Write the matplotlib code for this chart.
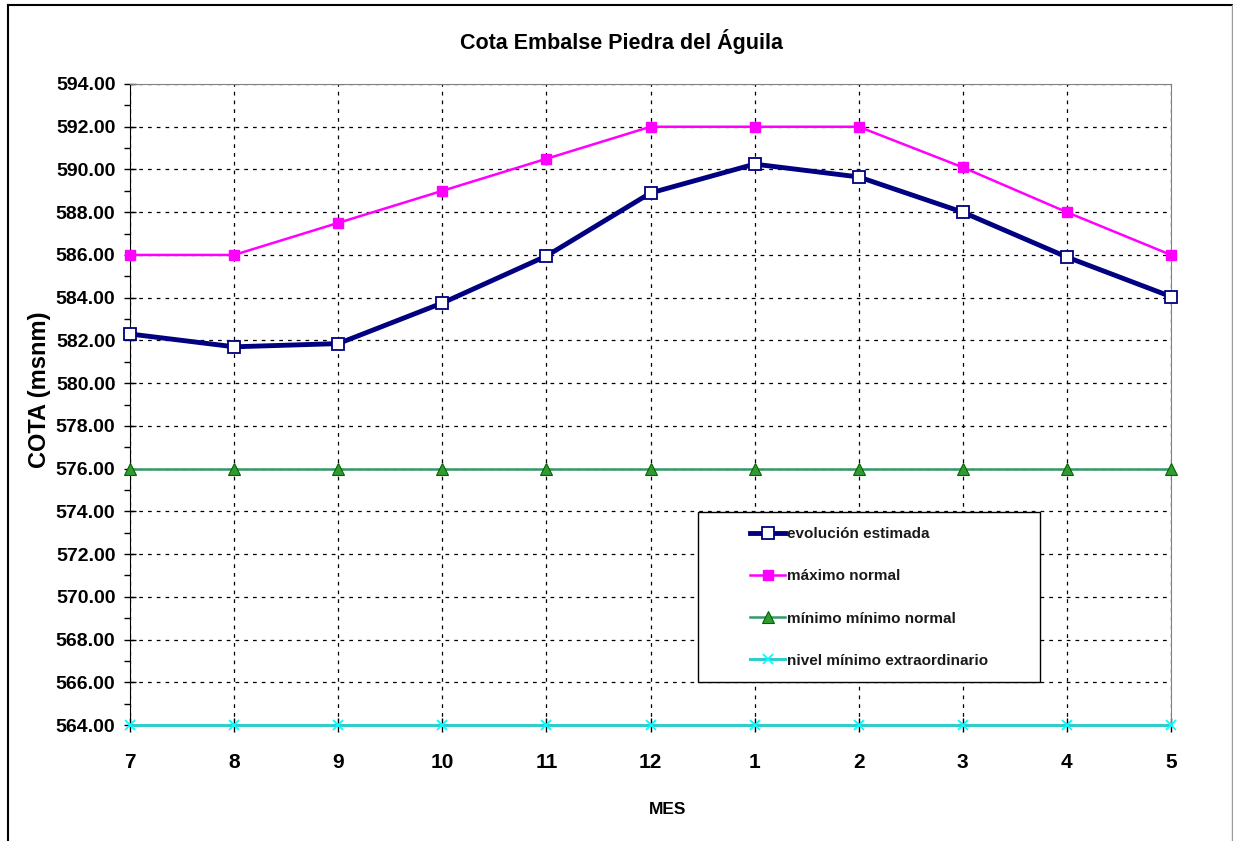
import matplotlib
matplotlib.use('Agg')
import matplotlib.pyplot as plt
from matplotlib.lines import Line2D
from matplotlib.patches import Rectangle
from matplotlib.ticker import MultipleLocator

plt.rcParams['font.family'] = ['Liberation Sans', 'DejaVu Sans']

# months on the category axis
meses = ['7', '8', '9', '10', '11', '12', '1', '2', '3', '4', '5']

# reservoir levels (msnm)
evolucion = [582.3, 581.7, 581.85, 583.75, 585.95, 588.9, 590.25, 589.65, 588.0, 585.9, 584.05]
maximo = [586.0, 586.0, 587.5, 589.0, 590.5, 592.0, 592.0, 592.0, 590.1, 588.0, 586.0]
minimo_normal = [576.0] * 11
minimo_extra = [564.0] * 11

x = list(range(len(meses)))

W, H = 1233, 841
fig = plt.figure(figsize=(W / 100, H / 100), dpi=100)
ax = fig.add_axes([130 / W, 1 - 725 / H, (1171 - 130) / W, (725 - 84) / H])

ax.plot(x, evolucion, color='#000080', lw=3.5, marker='s', ms=8.5,
        mfc='white', mec='#000080', mew=1.3, label='evolución estimada',
        zorder=5, clip_on=False)
ax.plot(x, maximo, color='#FF00FF', lw=1.8, marker='s', ms=7,
        mfc='#FF00FF', mec='#FF00FF', label='máximo normal', zorder=4, clip_on=False)
ax.plot(x, minimo_normal, color='#339966', lw=1.8, marker='^', ms=8.5,
        mfc='#339933', mec='#006600', mew=0.8, label='mínimo mínimo normal',
        zorder=4, clip_on=False)
ax.plot(x, minimo_extra, color='#33CCCC', lw=2.2, marker='x', ms=7,
        mec='#00FFFF', mew=1.3, label='nivel mínimo extraordinario', zorder=4,
        clip_on=False)

ax.set_xlim(0, 10)
ax.set_ylim(564, 594)
ax.set_xticks(x)
ax.set_xticklabels(meses, fontsize=15, fontweight='bold')
ax.yaxis.set_major_locator(MultipleLocator(2))
ax.yaxis.set_minor_locator(MultipleLocator(1))
ax.set_yticks(ax.get_yticks())
ax.set_yticklabels(['%.2f' % v for v in ax.get_yticks()], fontsize=14, fontweight='bold')
ax.set_ylim(564, 594)

ax.tick_params(axis='y', which='major', direction='inout', length=9, width=1, pad=6)
ax.tick_params(axis='y', which='minor', direction='out', length=4, width=1)
ax.tick_params(axis='x', which='major', direction='inout', length=10, width=1, pad=15)

ax.grid(True, which='major', color='black', linestyle=(0, (3, 4)), lw=0.9)
for side in ['top', 'right']:
    ax.spines[side].set_color('#808080')
ax.spines['bottom'].set_visible(False)
ax.spines['left'].set_color('black')

# titles placed on the figure (centred on the chart area like Excel)
fig.text(621 / W, 1 - 42 / H, 'Cota Embalse Piedra del Águila', fontsize=15.5,
         fontweight='bold', ha='center', va='center')
fig.text(40 / W, 1 - 390 / H, 'COTA (msnm)', fontsize=17, fontweight='bold',
         rotation=90, ha='center', va='center')
fig.text(668 / W, 1 - 810 / H, 'MES', fontsize=12.5, fontweight='bold',
         ha='center', va='center')

# legend box
ax.add_patch(Rectangle(((698 - 130) / 1041, (725 - 682) / 641),
                       (1040 - 698) / 1041, (682 - 512) / 641,
                       transform=ax.transAxes, facecolor='white', edgecolor='black',
                       lw=1.0, zorder=9))
leg = ax.legend(loc='upper left', bbox_to_anchor=((750 - 130) / 1041, (725 - 527) / 641),
                prop={'weight': 'bold', 'size': 11},
                frameon=False, labelspacing=1.85, handlelength=2.3, handletextpad=0.15,
                borderpad=0, borderaxespad=0)
leg.set_zorder(10)
for t in leg.get_texts():
    t.set_color('#1a1a1a')

# chart area border
fig.add_artist(Line2D([8 / W, 8 / W], [0, 1 - 5 / H], color='black', lw=1.5))
fig.add_artist(Line2D([8 / W, 1232 / W], [1 - 5 / H, 1 - 5 / H], color='black', lw=1.5))
fig.add_artist(Line2D([1232 / W, 1232 / W], [0, 1 - 5 / H], color='#999999', lw=1))

fig.savefig('out.png', dpi=100)
